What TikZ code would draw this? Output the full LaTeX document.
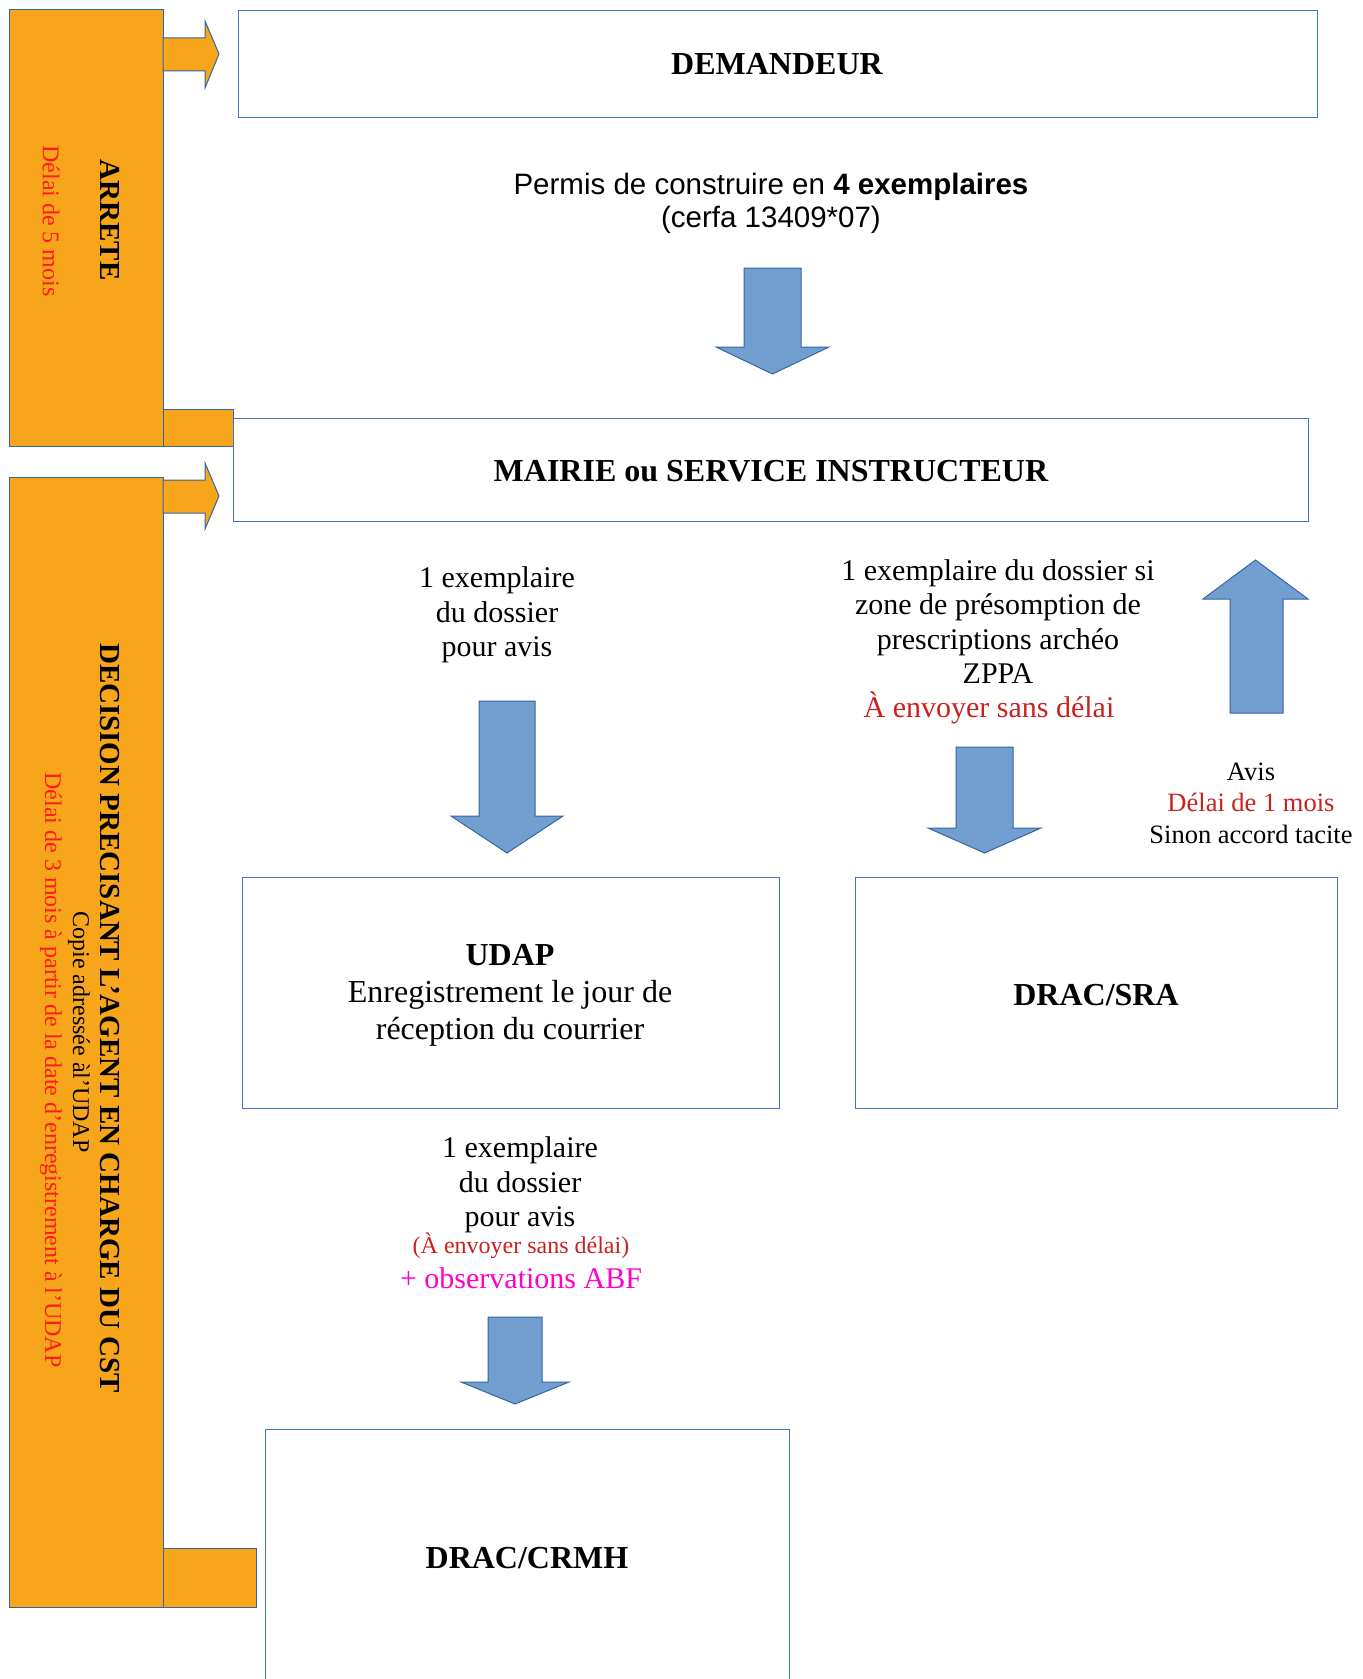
\documentclass[tikz,border=0pt]{standalone}
\usepackage{fontspec}
\setmainfont{Liberation Serif}
\newfontfamily\arialfont{Liberation Sans}
\definecolor{orng}{HTML}{F7A61C}
\definecolor{bordblue}{HTML}{4472C4}
\definecolor{arrfill}{HTML}{729FCF}
\definecolor{arrline}{HTML}{3465A4}
\definecolor{darkred}{HTML}{C9211E}
\definecolor{brightred}{HTML}{FF1A1A}
\definecolor{mag}{HTML}{FF00CC}
\begin{document}
\begin{tikzpicture}[x=1bp,y=-1bp,
  box/.style={draw=bordblue, line width=1.1bp, rectangle, inner sep=0pt, anchor=north west},
  title/.style={font=\fontsize{32bp}{36bp}\selectfont\bfseries, inner sep=0pt},
  body/.style={font=\fontsize{30bp}{34.3bp}\selectfont, align=center, inner sep=0pt},
  small/.style={font=\fontsize{26.5bp}{31.5bp}\selectfont, align=center, inner sep=0pt},
  vtitle/.style={font=\fontsize{29bp}{33bp}\selectfont\bfseries, rotate=-90, inner sep=0pt},
  vtext/.style={font=\fontsize{24bp}{28bp}\selectfont, rotate=-90, inner sep=0pt},
  bigarrow/.style={fill=arrfill, draw=arrline, line width=1bp},
  orangebar/.style={fill=orng, draw=arrline, line width=1bp}]
\useasboundingbox (0,0) rectangle (1363,1679);
\clip (0,0) rectangle (1363,1679);

% orange bars and side arrows
\draw[orangebar] (163,409) rectangle (233,446);
\draw[orangebar] (9,10) rectangle (163,446);
\draw[orangebar] (163,38) -- (205,38) -- (205,21) -- (219,54) -- (205,88) -- (205,71) -- (163,71) -- cycle;

\draw[orangebar] (163,1548) rectangle (256,1607);
\draw[orangebar] (9,477) rectangle (163,1607);
\draw[orangebar] (163,480) -- (205,480) -- (205,463) -- (219,496) -- (205,529) -- (205,513) -- (163,513) -- cycle;

% vertical texts
\node[vtitle] (arrete) at (110,220) {ARRETE};
\node[vtext, text=brightred] (delai5) at (51,221) {Délai de 5 mois};
\node[vtitle] (decision) at (110,1018) {DECISION PRECISANT L’AGENT EN CHARGE DU CST};
\node[vtext, font=\fontsize{24bp}{28bp}\selectfont] (copie) at (79,1032) {Copie adressée àl’UDAP};
\node[vtext, text=brightred] (delai3) at (51,1070) {Délai de 3 mois à partir de la date d’enregistrement à l’UDAP};

% boxes
\node[box, minimum width=1079bp, minimum height=107bp] (demandeur) at (238,10) {};
\node[title] (demlabel) at (777,64) {DEMANDEUR};

\node[box, minimum width=1075bp, minimum height=103bp] (mairie) at (233,418) {};
\node[title] (mairielabel) at (771,471) {MAIRIE ou SERVICE INSTRUCTEUR};

\node[box, minimum width=537bp, minimum height=231bp] (udap) at (242,877) {};
\node[font=\fontsize{32bp}{37bp}\selectfont, align=center, inner sep=0pt] (udaplabel) at (510,995) {\textbf{UDAP}\\Enregistrement le jour de\\réception du courrier};

\node[box, minimum width=482bp, minimum height=231bp] (sra) at (855,877) {};
\node[title] (sralabel) at (1096,995) {DRAC/SRA};

\node[box, minimum width=524bp, minimum height=300bp] (crmh) at (265,1429) {};
\node[title] (crmhlabel) at (527,1558) {DRAC/CRMH};

% texts
\node[font=\arialfont\fontsize{29.5bp}{33bp}\selectfont, align=center, inner sep=0pt] (permis) at (771,203)
  {Permis de construire en \textbf{4 exemplaires}\\(cerfa 13409*07)};
\node[body] (ex1) at (497,615) {1 exemplaire\\du dossier\\pour avis};
\node[body] (ex2) at (998,642) {1 exemplaire du dossier si\\zone de présomption de\\prescriptions archéo\\ZPPA\hspace*{6bp}\\\textcolor{darkred}{À envoyer sans délai}\hspace*{18bp}};
\node[small] (avis) at (1251,803) {Avis\\\textcolor{darkred}{Délai de 1 mois}\\Sinon accord tacite};
\node[body] (ex3) at (520,1185) {1 exemplaire\\du dossier\\pour avis};
\node[font=\fontsize{24bp}{28bp}\selectfont, text=darkred, inner sep=0pt] (envoi) at (521,1246) {(À envoyer sans délai)};
\node[font=\fontsize{30bp}{34bp}\selectfont, text=mag, inner sep=0pt] (abf) at (521,1278) {+ observations ABF};

% block arrows
\draw[bigarrow] (744,268) -- (801,268) -- (801,347) -- (829,347) -- (772.5,374) -- (716,347) -- (744,347) -- cycle;
\draw[bigarrow] (479,701) -- (535,701) -- (535,816) -- (563,816) -- (507,853) -- (451,816) -- (479,816) -- cycle;
\draw[bigarrow] (956,747) -- (1013,747) -- (1013,828) -- (1041,828) -- (984.5,853) -- (928,828) -- (956,828) -- cycle;
\draw[bigarrow] (1230,713) -- (1283,713) -- (1283,599) -- (1308,599) -- (1255.5,560) -- (1203,599) -- (1230,599) -- cycle;
\draw[bigarrow] (488,1317) -- (542,1317) -- (542,1382) -- (569,1382) -- (515,1404) -- (461,1382) -- (488,1382) -- cycle;
\end{tikzpicture}
\end{document}
